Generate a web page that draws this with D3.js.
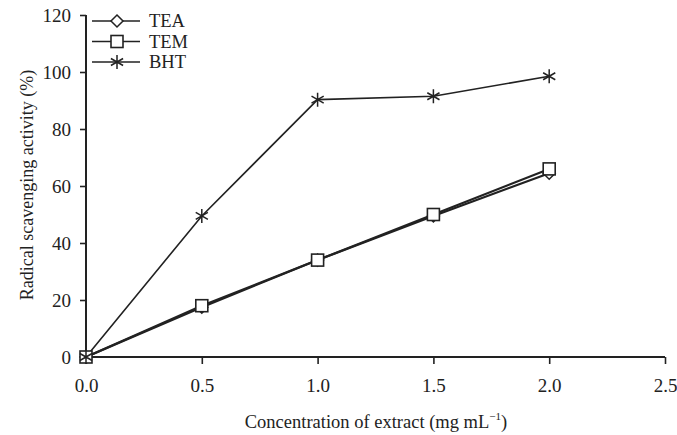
<!DOCTYPE html>
<html>
<head>
<meta charset="utf-8">
<script src="https://cdn.jsdelivr.net/npm/d3@7"></script>
<style>
body { margin:0; background:#fff; }
text { font-family: "Liberation Serif", "DejaVu Serif", serif; fill:#222; }
</style>
</head>
<body>
<script>
// data
var conc = [0, 0.5, 1.0, 1.5, 2.0];
var tea = [0, 17.5, 34, 49.5, 64.5];
var tem = [0, 18, 34, 50, 66];
var bht = [0, 49.5, 90.3, 91.5, 98.5];
var xTicks = [0, 0.5, 1.0, 1.5, 2.0, 2.5];
var yTicks = [0, 20, 40, 60, 80, 100, 120];

var width = 677, height = 435;
var margin = {left:86, right:10, top:15, bottom:78};

var svg = d3.select("body").append("svg").attr("width",width).attr("height",height);

var x = d3.scaleLinear().domain([0,2.5]).range([margin.left, 665]);
var y = d3.scaleLinear().domain([0,120]).range([357, margin.top]);

// axes
var xAxis = svg.append("g").attr("transform","translate(0,"+y(0)+")")
  .call(d3.axisBottom(x).tickValues(xTicks).tickFormat(d3.format(".1f")).tickSize(7).tickSizeOuter(0).tickPadding(15));
var yAxis = svg.append("g").attr("transform","translate("+x(0)+",0)")
  .call(d3.axisLeft(y).tickValues(yTicks).tickSize(6).tickSizeOuter(0).tickPadding(9));
[xAxis, yAxis].forEach(function(a){
  a.select(".domain").attr("stroke","#222").attr("stroke-width",2);
  a.selectAll(".tick line").attr("stroke","#222").attr("stroke-width",1.6);
  a.selectAll(".tick text").style("font-size","19px").attr("fill","#222");
});
xAxis.select(".domain").attr("d","M"+x(0)+",0H"+x(2.5));
yAxis.select(".domain").attr("d","M0,"+y(0)+"V"+y(120));

// labels
svg.append("text").attr("x", 376).attr("y", 428).attr("text-anchor","middle")
  .style("font-size","18.5px")
  .html('Concentration of extract (mg mL<tspan dy="-8" style="font-size:11px">\u22121</tspan><tspan dy="8">)</tspan>');
svg.append("text").attr("transform","translate(33,185) rotate(-90)").attr("text-anchor","middle")
  .style("font-size","18px").text("Radical scavenging activity (%)");

var line = d3.line().x(function(d){return x(d[0]);}).y(function(d){return y(d[1]);});
function pts(v){ return conc.map(function(c,i){ return [c, v[i]]; }); }

var series = [
  {name:"TEA", values:tea, width:2.2, marker:"diamond"},
  {name:"TEM", values:tem, width:2.2, marker:"square"},
  {name:"BHT", values:bht, width:1.6, marker:"star"}
];

function drawMarker(g, type, cx, cy){
  if(type==="diamond"){
    g.append("path").attr("d","M"+cx+","+(cy-6)+"L"+(cx+6)+","+cy+"L"+cx+","+(cy+6)+"L"+(cx-6)+","+cy+"Z")
      .attr("fill","#fff").attr("stroke","#222").attr("stroke-width",1.5);
  } else if(type==="square"){
    g.append("rect").attr("x",cx-6).attr("y",cy-6).attr("width",12).attr("height",12)
      .attr("fill","#fff").attr("stroke","#222").attr("stroke-width",1.6);
  } else {
    var r = 7;
    g.append("path").attr("d","M"+cx+","+(cy-r)+"V"+(cy+r)+"M"+(cx-r*0.87)+","+(cy-r*0.5)+"L"+(cx+r*0.87)+","+(cy+r*0.5)+"M"+(cx-r*0.87)+","+(cy+r*0.5)+"L"+(cx+r*0.87)+","+(cy-r*0.5))
      .attr("fill","none").attr("stroke","#222").attr("stroke-width",1.5);
  }
}

series.forEach(function(s){
  svg.append("path").attr("d", line(pts(s.values))).attr("fill","none")
    .attr("stroke","#222").attr("stroke-width",s.width);
});
series.forEach(function(s){
  var g = svg.append("g");
  pts(s.values).forEach(function(p){ drawMarker(g, s.marker, x(p[0]), y(p[1])); });
});

// legend
var leg = svg.append("g");
series.forEach(function(s,i){
  var ly = 21 + i*20.5;
  leg.append("line").attr("x1",92).attr("x2",140).attr("y1",ly).attr("y2",ly)
    .attr("stroke","#222").attr("stroke-width",1.6);
  drawMarker(leg, s.marker, 117, ly);
  leg.append("text").attr("x",149).attr("y",ly+6).style("font-size","18.5px").text(s.name);
});
</script>
</body>
</html>
